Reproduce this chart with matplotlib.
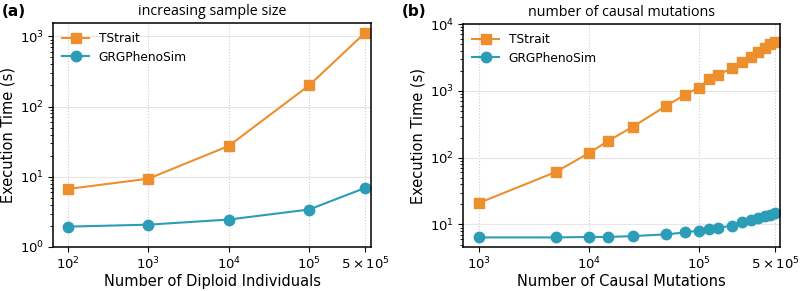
import matplotlib.pyplot as plt
from matplotlib.ticker import FixedLocator, FixedFormatter, NullFormatter

# panel (a): increasing sample size
n_individuals = [1e2, 1e3, 1e4, 1e5, 5e5]
tstrait_a = [6.7, 9.4, 27.5, 200, 1130]
grg_a = [1.95, 2.08, 2.46, 3.42, 6.95]
ticklabels_a = ['$10^2$', '$10^3$', '$10^4$', '$10^5$', r'$5\times10^5$']

# panel (b): number of causal mutations
n_causal = [1e3, 5e3, 1e4, 1.5e4, 2.5e4, 5e4, 7.5e4, 1e5, 1.25e5, 1.5e5,
            2e5, 2.5e5, 3e5, 3.5e5, 4e5, 4.5e5, 5e5]
tstrait_b = [21, 61, 117, 178, 288, 589, 871, 1120, 1480, 1720,
             2190, 2720, 3240, 3760, 4420, 4950, 5300]
grg_b = [6.4, 6.4, 6.5, 6.5, 6.7, 7.1, 7.6, 8.1, 8.6, 9.0,
         9.5, 10.8, 11.6, 12.3, 13.3, 14.0, 14.8]
ticks_b = [1e3, 1e4, 1e5, 5e5]
ticklabels_b = ['$10^3$', '$10^4$', '$10^5$', r'$5\times10^5$']

ORANGE = '#EC8F2C'
TEAL = '#2C9DB6'

fig = plt.figure(figsize=(8, 2.91), dpi=100)
ax1 = fig.add_axes([53 / 800, 1 - 247 / 291, 318 / 800, 224 / 291])
ax2 = fig.add_axes([463 / 800, 1 - 247 / 291, 317 / 800, 223 / 291])


def style_axis(ax, x, ts, grg, ticks, labels, xlabel, title):
    ax.plot(x, ts, '-s', color=ORANGE, markersize=7.5, lw=1.5, label='TStrait')
    ax.plot(x, grg, '-o', color=TEAL, markersize=7.5, lw=1.5, label='GRGPhenoSim')
    ax.set_xscale('log')
    ax.set_yscale('log')
    ax.xaxis.set_major_locator(FixedLocator(ticks))
    ax.xaxis.set_major_formatter(FixedFormatter(labels))
    ax.xaxis.set_minor_formatter(NullFormatter())
    ax.tick_params(axis='x', which='minor', bottom=False)
    ax.tick_params(labelsize=9.5, pad=3)
    ax.grid(True, axis='x', which='major', linestyle=':', color='#cccccc', lw=0.8)
    ax.grid(True, axis='y', which='major', linestyle='-', color='#e6e6e6', lw=0.8)
    ax.set_xlabel(xlabel, fontsize=10.5, labelpad=1)
    ax.set_ylabel('Execution Time (s)', fontsize=10.5, labelpad=3)
    ax.legend(loc='upper left', frameon=False, fontsize=8.8, handlelength=2.2,
              borderaxespad=0.35, labelspacing=0.45)
    ax.set_title(title, family='Open Sans', fontsize=10.3, pad=6)
    for s in ax.spines.values():
        s.set_linewidth(1.1)


style_axis(ax1, n_individuals, tstrait_a, grg_a, n_individuals, ticklabels_a,
           'Number of Diploid Individuals', 'increasing sample size')
ax1.set_xlim(65, 5.9e5)
ax1.set_ylim(1, 1550)

style_axis(ax2, n_causal, tstrait_b, grg_b, ticks_b, ticklabels_b,
           'Number of Causal Mutations', 'number of causal mutations')
ax2.set_xlim(715, 5.5e5)
ax2.set_ylim(4.6, 1e4)

# panel letters
fig.text(2 / 800, 1 - 4 / 291, '(a)', fontsize=11, fontweight='bold', ha='left', va='top')
fig.text(402 / 800, 1 - 4 / 291, '(b)', fontsize=11, fontweight='bold', ha='left', va='top')

fig.savefig('out.png', dpi=100)
